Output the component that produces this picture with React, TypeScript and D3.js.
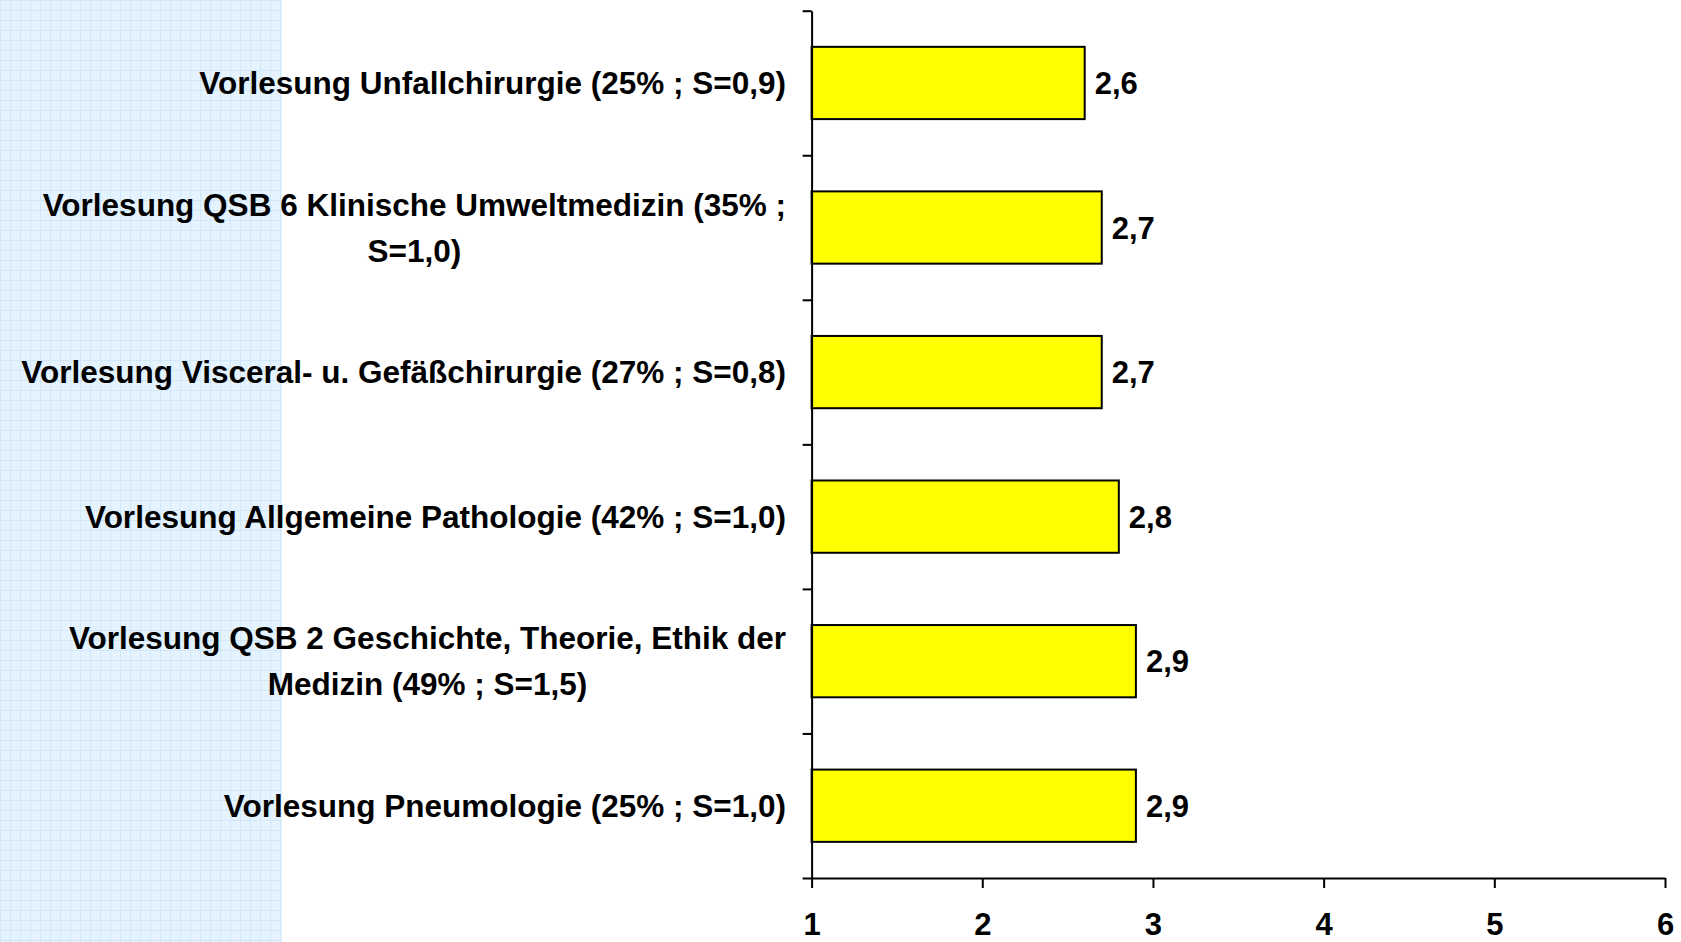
import React, { useEffect, useRef } from 'react';
import * as d3 from 'd3';

// lecture labels (one entry per line of the label)
const categories: string[][] = [
  ['Vorlesung Unfallchirurgie (25% ; S=0,9)'],
  ['Vorlesung QSB 6 Klinische Umweltmedizin (35% ;', 'S=1,0)'],
  ['Vorlesung Visceral- u. Gefäßchirurgie (27% ; S=0,8)'],
  ['Vorlesung Allgemeine Pathologie (42% ; S=1,0)'],
  ['Vorlesung QSB 2 Geschichte, Theorie, Ethik der', 'Medizin (49% ; S=1,5)'],
  ['Vorlesung Pneumologie (25% ; S=1,0)'],
];
const values = [2.6, 2.7, 2.7, 2.8, 2.9, 2.9];
const xTicks = [1, 2, 3, 4, 5, 6];

const FONT = "'Liberation Sans', Arial, Helvetica, sans-serif";

const App = () => {
  const svgRef = useRef<SVGSVGElement>(null);

  useEffect(() => {
    const svg = d3.select(svgRef.current);
    svg.selectAll('*').remove();

    const height = 942;
    const plot = { left: 811.6, right: 1665, top: 10.7, bottom: 878 };

    const de = d3.formatLocale({ decimal: ',', thousands: '.', grouping: [3], currency: ['', '€'] });
    const fmt = de.format('.1f');

    // light blue grid panel on the left
    const defs = svg.append('defs');
    const pat = defs.append('pattern')
      .attr('id', 'grid')
      .attr('width', 10)
      .attr('height', 10)
      .attr('patternUnits', 'userSpaceOnUse');
    pat.append('rect').attr('width', 10).attr('height', 10).attr('fill', '#e4f3fe');
    pat.append('path')
      .attr('d', 'M0,0.5H10M0.5,0V10')
      .attr('stroke', '#d0e8fa')
      .attr('stroke-width', 1);

    svg.append('rect')
      .attr('x', 0)
      .attr('y', 0)
      .attr('width', 282)
      .attr('height', height)
      .attr('fill', 'url(#grid)');

    const x = d3.scaleLinear().domain([1, 6]).range([plot.left, plot.right]);

    const y = d3.scaleBand<number>()
      .domain(d3.range(categories.length))
      .range([plot.top, plot.bottom])
      .paddingInner(0.5)
      .paddingOuter(0.25);

    // category boundaries for the y-axis ticks
    const yLin = d3.scaleLinear().domain([0, categories.length]).range([plot.top, plot.bottom]);

    // bars
    svg.append('g')
      .selectAll('rect')
      .data(values)
      .enter()
      .append('rect')
      .attr('x', x(1))
      .attr('y', (_, i) => y(i)!)
      .attr('width', d => x(d) - x(1))
      .attr('height', y.bandwidth())
      .attr('fill', '#ffff00')
      .attr('stroke', '#000')
      .attr('stroke-width', 2);

    // value labels
    svg.append('g')
      .selectAll('text')
      .data(values)
      .enter()
      .append('text')
      .attr('x', d => x(d) + 10)
      .attr('y', (_, i) => y(i)! + y.bandwidth() / 2 + 11)
      .attr('font-family', FONT)
      .attr('font-weight', 'bold')
      .attr('font-size', 31)
      .text(d => fmt(d));

    // y axis
    svg.append('g')
      .attr('transform', `translate(${plot.left},0)`)
      .call(
        d3.axisLeft(yLin)
          .tickValues(d3.range(categories.length + 1))
          .tickFormat(() => '')
          .tickSize(9)
          .tickSizeOuter(0)
      )
      .call(g => g.selectAll('path, line').attr('stroke', '#000').attr('stroke-width', 2));

    // x axis
    svg.append('g')
      .attr('transform', `translate(0,${plot.bottom})`)
      .call(
        d3.axisBottom(x)
          .tickValues(xTicks)
          .tickFormat(d3.format('d'))
          .tickSize(10)
          .tickPadding(25)
          .tickSizeOuter(0)
      )
      .call(g => g.selectAll('path, line').attr('stroke', '#000').attr('stroke-width', 2))
      .call(g => g.selectAll('text')
        .attr('fill', '#000')
        .attr('font-family', FONT)
        .attr('font-weight', 'bold')
        .attr('font-size', 31));

    // category labels: lines centred on each other, block right-aligned to the axis
    const labelRight = 786;
    const lineHeight = 46;
    categories.forEach((lines, i) => {
      const cy = y(i)! + y.bandwidth() / 2;
      const g = svg.append('g');
      lines.forEach((line, j) => {
        g.append('text')
          .attr('x', 0)
          .attr('y', cy + 11 + (j - (lines.length - 1) / 2) * lineHeight)
          .attr('text-anchor', 'middle')
          .attr('font-family', FONT)
          .attr('font-weight', 'bold')
          .attr('font-size', 31.5)
          .attr('fill', '#000')
          .text(line);
      });
      const w = d3.max(g.selectAll<SVGTextElement, unknown>('text').nodes(), n => n.getComputedTextLength()) || 0;
      g.attr('transform', `translate(${labelRight - w / 2},0)`);
    });
  }, []);

  return (
    <svg
      ref={svgRef}
      width={1681}
      height={942}
      style={{ position: 'absolute', left: 0, top: 0, display: 'block', background: '#fff' }}
    />
  );
};

export default App;
